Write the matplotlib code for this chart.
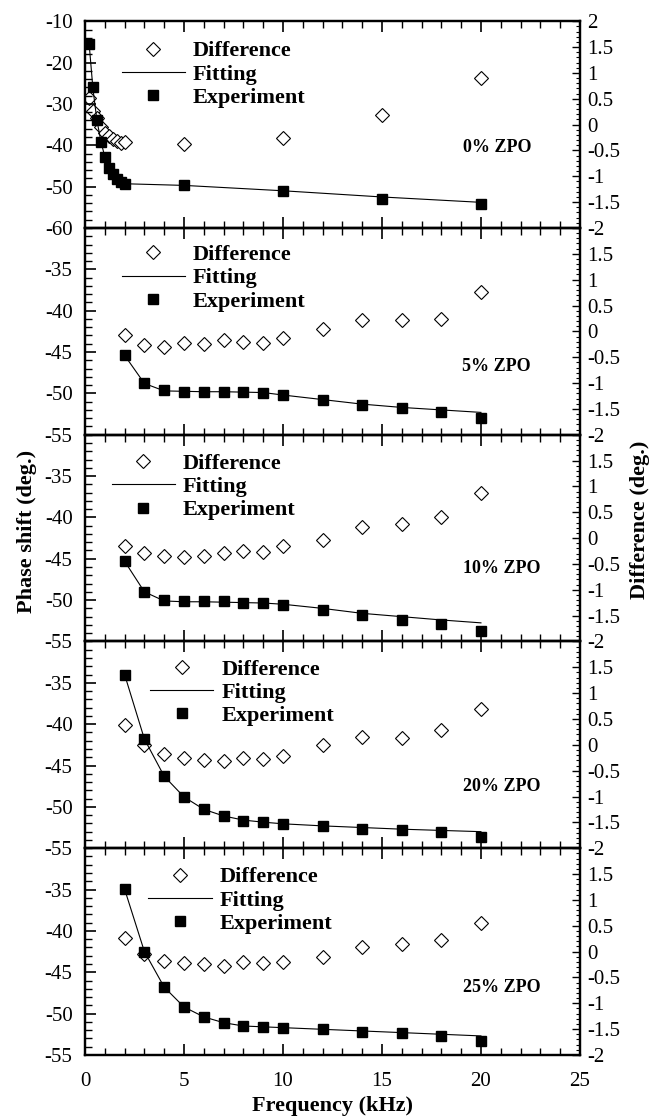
import matplotlib
matplotlib.use("Agg")
import matplotlib.pyplot as plt
from matplotlib.lines import Line2D
from matplotlib.ticker import MultipleLocator, FixedLocator

plt.rcParams['font.family'] = ['Liberation Serif', 'DejaVu Serif']
plt.rcParams['axes.unicode_minus'] = False

# frequencies (kHz)
freq_0 = [0.2, 0.4, 0.6, 0.8, 1.0, 1.2, 1.4, 1.6, 1.8, 2.0, 5, 10, 15, 20]
freq = [2, 3, 4, 5, 6, 7, 8, 9, 10, 12, 14, 16, 18, 20]

# 0% ZPO
exp_0 = [-15.5, -26.0, -33.8, -39.1, -42.9, -45.5, -47.0, -48.2, -48.9, -49.4, -49.6, -51.1, -52.9, -54.3]
fit_0 = [-15.0, -26.3, -33.9, -39.0, -42.8, -45.4, -47.0, -48.2, -48.9, -49.3, -49.7, -51.0, -52.5, -53.8]
diff_0 = [0.52, 0.26, 0.13, -0.05, -0.16, -0.23, -0.28, -0.32, -0.36, -0.34, -0.38, -0.26, 0.18, 0.90]

# 5% ZPO
exp_5 = [-45.4, -48.7, -49.65, -49.8, -49.8, -49.8, -49.8, -49.9, -50.25, -50.8, -51.4, -51.8, -52.2, -53.0]
fit_5 = [-45.4, -48.8, -49.7, -49.75, -49.8, -49.8, -49.85, -49.9, -50.2, -50.75, -51.3, -51.7, -52.0, -52.3]
diff_5 = [-0.08, -0.27, -0.31, -0.22, -0.24, -0.16, -0.20, -0.22, -0.12, 0.05, 0.22, 0.22, 0.24, 0.76]

# 10% ZPO
exp_10 = [-45.3, -49.05, -50.0, -50.1, -50.1, -50.15, -50.3, -50.35, -50.6, -51.2, -51.85, -52.4, -52.85, -53.7]
fit_10 = [-45.3, -49.0, -50.1, -50.2, -50.2, -50.25, -50.3, -50.35, -50.5, -51.0, -51.6, -52.0, -52.4, -52.75]
diff_10 = [-0.15, -0.29, -0.34, -0.37, -0.34, -0.29, -0.25, -0.26, -0.15, -0.03, 0.21, 0.28, 0.40, 0.88]

# 20% ZPO
exp_20 = [-34.0, -41.8, -46.25, -48.8, -50.3, -51.1, -51.7, -51.85, -52.1, -52.3, -52.65, -52.85, -53.1, -53.7]
fit_20 = [-34.0, -41.8, -46.3, -48.8, -50.3, -51.1, -51.6, -51.85, -52.05, -52.3, -52.5, -52.7, -52.85, -53.0]
diff_20 = [0.39, 0.0, -0.18, -0.26, -0.30, -0.31, -0.26, -0.28, -0.21, -0.01, 0.16, 0.14, 0.29, 0.70]

# 25% ZPO
exp_25 = [-34.95, -42.6, -46.8, -49.2, -50.4, -51.1, -51.5, -51.6, -51.7, -51.9, -52.2, -52.4, -52.7, -53.3]
fit_25 = [-34.95, -42.5, -46.8, -49.2, -50.4, -51.1, -51.5, -51.6, -51.7, -51.9, -52.1, -52.3, -52.5, -52.7]
diff_25 = [0.26, -0.05, -0.18, -0.23, -0.25, -0.27, -0.20, -0.22, -0.20, -0.11, 0.09, 0.15, 0.22, 0.55]

panels = [
    ("0% ZPO", freq_0, exp_0, fit_0, diff_0),
    ("5% ZPO", freq, exp_5, fit_5, diff_5),
    ("10% ZPO", freq, exp_10, fit_10, diff_10),
    ("20% ZPO", freq, exp_20, fit_20, diff_20),
    ("25% ZPO", freq, exp_25, fit_25, diff_25),
]
# legend / tag placement (axes fractions)
legend_pos = [(0.074, 0.905), (0.074, 0.92), (0.054, 0.91), (0.131, 0.915), (0.128, 0.91)]
tag_pos = [(0.832, 0.39), (0.832, 0.33), (0.842, 0.353), (0.842, 0.297), (0.842, 0.325)]

fig, axes = plt.subplots(5, 1, sharex=True, figsize=(6.59, 11.18), dpi=100)
fig.subplots_adjust(left=0.129, right=0.880, top=0.981, bottom=0.0564, hspace=0)

for i, (name, f, ex, fi, df) in enumerate(panels):
    ax = axes[i]
    tw = ax.twinx()
    tw.plot(f, df, linestyle='none', marker='D', markersize=7, markerfacecolor='white',
            markeredgecolor='black', markeredgewidth=0.8)
    ax.plot(f, fi, color='black', lw=0.8)
    ax.plot(f, ex, linestyle='none', marker='s', markersize=7, color='black')
    ax.set_zorder(tw.get_zorder() + 1)
    ax.patch.set_visible(False)

    ax.set_xlim(0, 25)
    tw.set_ylim(-2, 2)
    if i == 0:
        ax.set_ylim(-60, -10)
        ax.yaxis.set_major_locator(MultipleLocator(10))
        ax.yaxis.set_minor_locator(MultipleLocator(2))
        tw.yaxis.set_major_locator(MultipleLocator(0.5))
    else:
        ax.set_ylim(-55, -30)
        ax.yaxis.set_major_locator(FixedLocator([-55, -50, -45, -40, -35]))
        ax.yaxis.set_minor_locator(MultipleLocator(1))
        tw.yaxis.set_major_locator(FixedLocator([-2, -1.5, -1, -0.5, 0, 0.5, 1, 1.5]))
    tw.yaxis.set_minor_locator(MultipleLocator(0.1))
    tw.set_yticklabels([('%g' % t) for t in tw.get_yticks()])
    ax.xaxis.set_major_locator(MultipleLocator(5))
    ax.xaxis.set_minor_locator(MultipleLocator(1))

    ax.tick_params(axis='x', which='both', direction='in', top=True, bottom=True, labelsize=15, pad=12)
    ax.tick_params(axis='x', which='major', length=8, width=1.2)
    ax.tick_params(axis='x', which='minor', length=5, width=1.0)
    ax.tick_params(axis='y', which='both', direction='in', left=True, right=False, labelsize=15, pad=9)
    ax.tick_params(axis='y', which='major', length=8, width=1.2)
    ax.tick_params(axis='y', which='minor', length=5, width=1.0)
    tw.tick_params(axis='y', which='both', direction='in', labelsize=15, pad=5)
    tw.tick_params(axis='y', which='major', length=6, width=1.0)
    tw.tick_params(axis='y', which='minor', length=3, width=0.8)
    for a in (ax, tw):
        for s in a.spines.values():
            s.set_linewidth(1.6)

    handles = [
        Line2D([], [], linestyle='none', marker='D', markersize=7, markerfacecolor='white',
               markeredgecolor='black', markeredgewidth=0.8),
        Line2D([], [], color='black', lw=0.8),
        Line2D([], [], linestyle='none', marker='s', markersize=7, color='black'),
    ]
    ax.legend(handles, ["Difference", "Fitting", "Experiment"], loc='upper left',
              bbox_to_anchor=legend_pos[i], frameon=False, borderpad=0, borderaxespad=0,
              handlelength=2.85, handletextpad=0.36, labelspacing=0.12,
              prop={'weight': 'bold', 'size': 16})
    ax.text(tag_pos[i][0], tag_pos[i][1], name, transform=ax.transAxes, ha='center', va='center',
            fontsize=13, fontweight='bold')

axes[-1].set_xlabel("Frequency (kHz)", fontsize=16, fontweight='bold', labelpad=4)
fig.text(0.041, 0.525, "Phase shift (deg.)", rotation=90, ha='center', va='center',
         fontsize=16, fontweight='bold')
fig.text(0.971, 0.535, "Difference (deg.)", rotation=90, ha='center', va='center',
         fontsize=16, fontweight='bold')

fig.savefig("out.png", dpi=100)
